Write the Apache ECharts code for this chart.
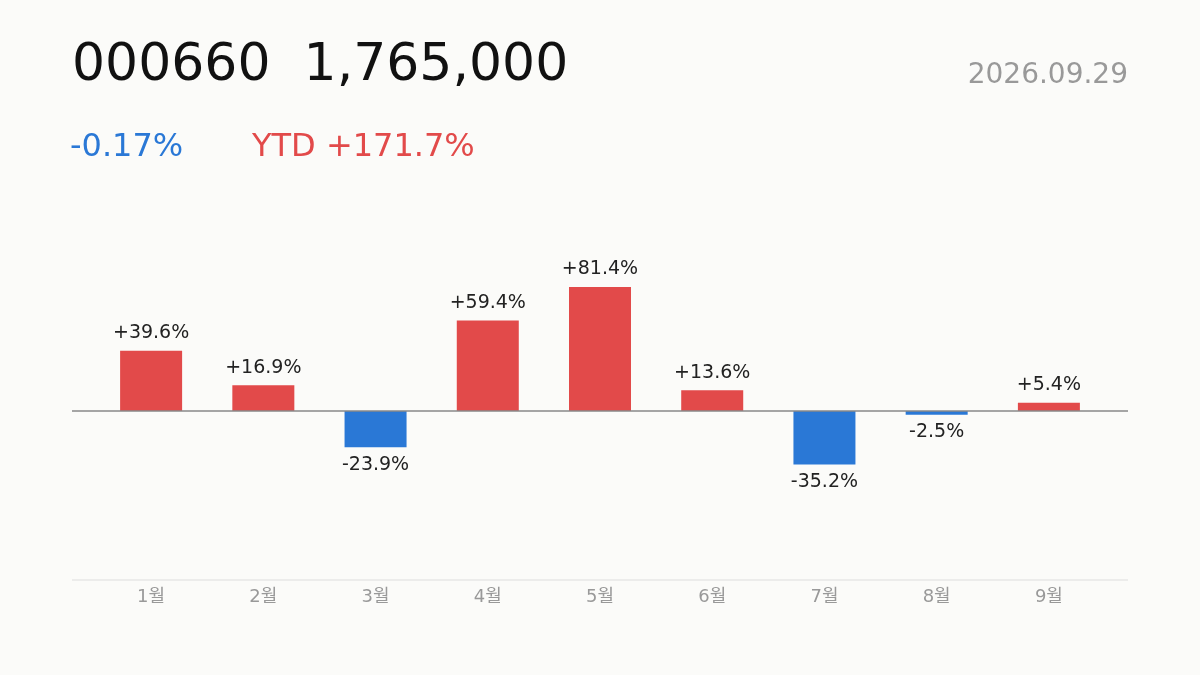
<!DOCTYPE html>
<html><head><meta charset="utf-8">
<script src="https://cdn.jsdelivr.net/npm/echarts@6/dist/echarts.min.js"></script>
<style>html,body{margin:0;background:#fbfbf9}#c{width:1200px;height:675px}</style>
</head><body><div id="c"></div>
<script>
const categories = ['1월','2월','3월','4월','5월','6월','7월','8월','9월'];
const values = [39.6, 16.9, -23.9, 59.4, 81.4, 13.6, -35.2, -2.5, 5.4];
const code = '000660', price = '1,765,000', date = '2026.09.29', dayChg = '-0.17%', ytd = 'YTD +171.7%';
const RED = '#e24a4a', BLUE = '#2a78d6';
const font = '"DejaVu Sans", "Noto Sans CJK KR", sans-serif';
const chart = echarts.init(document.getElementById('c'));
chart.setOption({
  backgroundColor: '#fbfbf9',
  animation: false,
  textStyle: {fontFamily: font},
  grid: {left: 95, right: 95, top: 200, bottom: 95},
  xAxis: {type: 'category', data: categories, axisLine: {show: false}, axisTick: {show: false},
    axisLabel: {color: '#999', fontSize: 18, margin: 8, fontFamily: font}},
  yAxis: {type: 'value', min: -111, max: 138.5, show: false, splitLine: {show: false}},
  series: [{type: 'bar', barWidth: 62,
    data: values.map(v => ({value: v, itemStyle: {color: v >= 0 ? RED : BLUE},
      label: {position: v >= 0 ? 'top' : 'bottom'}})),
    label: {show: true, fontSize: 19, color: '#222', distance: 8, fontFamily: font,
      formatter: p => (p.value > 0 ? '+' : '') + p.value.toFixed(1) + '%'}}]
});
const y0 = chart.convertToPixel({yAxisIndex: 0}, 0);
chart.setOption({graphic: [
  {type: 'line', z: 10, shape: {x1: 72, y1: y0, x2: 1128, y2: y0}, style: {stroke: '#888', lineWidth: 1.5}},
  {type: 'line', shape: {x1: 72, y1: 580, x2: 1128, y2: 580}, style: {stroke: '#ddd', lineWidth: 1}},
  {type: 'text', left: 72, top: 40, style: {text: code + '  ' + price, font: '52px ' + font, fill: '#111'}},
  {type: 'text', right: 72, top: 62, style: {text: date, font: '28px ' + font, fill: '#999'}},
  {type: 'text', left: 70, top: 132, style: {text: dayChg, font: '32px ' + font, fill: BLUE}},
  {type: 'text', left: 252, top: 132, style: {text: ytd, font: '32px ' + font, fill: RED}}
]});
</script></body></html>
